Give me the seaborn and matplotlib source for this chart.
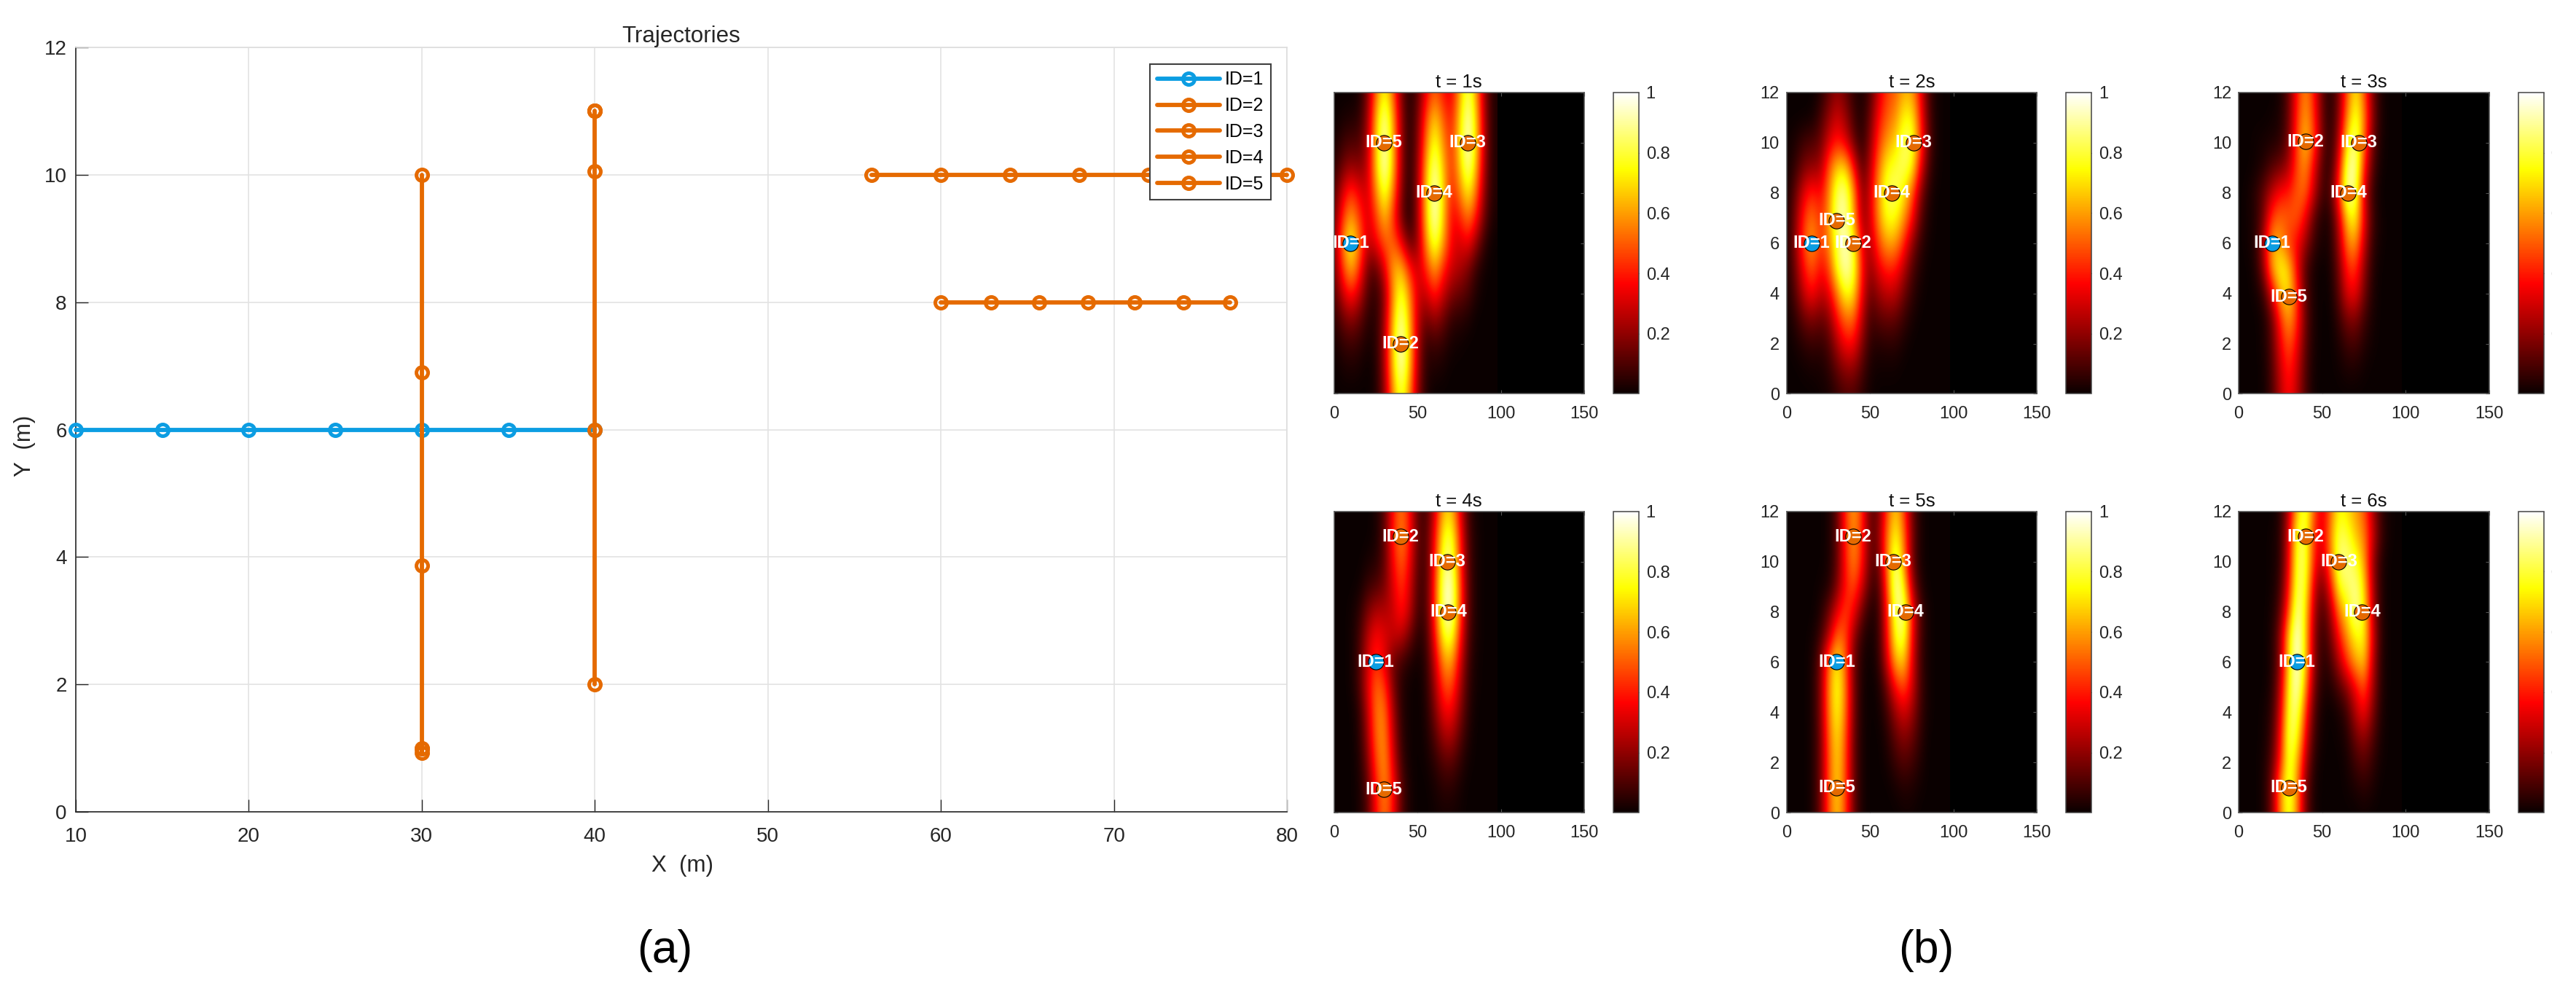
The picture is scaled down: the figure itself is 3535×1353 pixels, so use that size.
import numpy as np
import matplotlib
matplotlib.use("Agg")
import matplotlib.pyplot as plt
from matplotlib.transforms import Bbox
import seaborn as sns

# trajectories, one point per time step
id1_x = [10, 15, 20, 25, 30, 35, 40]
id1_y = [6, 6, 6, 6, 6, 6, 6]
id2_x = [40, 40, 40, 40, 40, 40]
id2_y = [2, 6, 10.05, 11, 11, 11]
id3_x = [80, 76, 72, 68, 64, 60, 56]
id3_y = [10, 10, 10, 10, 10, 10, 10]
id4_x = [60, 62.9, 65.7, 68.5, 71.2, 74, 76.7]
id4_y = [8, 8, 8, 8, 8, 8, 8]
id5_x = [30, 30, 30, 30, 30, 30]
id5_y = [10, 6.9, 3.87, 0.93, 1, 1]

traj_x = [id1_x, id2_x, id3_x, id4_x, id5_x]
traj_y = [id1_y, id2_y, id3_y, id4_y, id5_y]
id_names = ["ID=1", "ID=2", "ID=3", "ID=4", "ID=5"]
id_colors = ["#0C9DE2", "#E56A00", "#E56A00", "#E56A00", "#E56A00"]

x_ticks = [10, 20, 30, 40, 50, 60, 70, 80]
y_ticks = [0, 2, 4, 6, 8, 10, 12]
heat_x_ticks = [0, 50, 100, 150]
cbar_ticks = [0.2, 0.4, 0.6, 0.8, 1]
cbar_labels = ["0.2", "0.4", "0.6", "0.8", "1"]

# power maps in percent: rows y=12 down to y=0, columns x=0,5,...,95 (black past that)
heat_t1 = [
    [0, 0, 0, 2, 17, 52, 75, 52, 17, 3, 12, 35, 50, 38, 32, 61, 85, 59, 20, 3],
    [0, 2, 3, 5, 21, 63, 92, 63, 21, 3, 16, 47, 68, 50, 38, 68, 95, 66, 22, 3],
    [2, 7, 10, 10, 24, 66, 95, 66, 22, 3, 18, 55, 80, 58, 41, 71, 98, 68, 23, 3],
    [5, 15, 22, 18, 27, 67, 97, 67, 22, 3, 21, 63, 92, 66, 42, 66, 92, 63, 21, 3],
    [10, 31, 45, 34, 29, 57, 82, 57, 19, 3, 22, 67, 97, 70, 39, 55, 75, 52, 17, 3],
    [14, 43, 62, 45, 29, 45, 65, 45, 15, 2, 22, 67, 97, 69, 35, 40, 55, 38, 13, 2],
    [18, 55, 80, 55, 28, 35, 50, 52, 35, 12, 20, 59, 85, 62, 35, 30, 36, 20, 5, 0],
    [15, 45, 65, 45, 15, 12, 32, 62, 65, 40, 28, 43, 62, 43, 29, 25, 17, 6, 1, 0],
    [10, 29, 42, 29, 10, 5, 19, 57, 82, 57, 29, 29, 42, 29, 18, 14, 10, 3, 0, 0],
    [5, 14, 20, 14, 5, 4, 21, 63, 92, 63, 26, 15, 22, 15, 6, 5, 3, 0, 0, 0],
    [2, 6, 8, 6, 2, 4, 23, 68, 98, 68, 24, 6, 8, 6, 2, 1, 0, 0, 0, 0],
    [0, 2, 3, 2, 0, 3, 22, 66, 95, 66, 22, 4, 3, 2, 0, 0, 0, 0, 0, 0],
    [0, 0, 0, 0, 0, 3, 19, 57, 82, 57, 19, 3, 0, 0, 0, 0, 0, 0, 0, 0],
]
heat_t2 = [
    [0, 0, 0, 0, 3, 12, 20, 14, 5, 2, 10, 30, 45, 50, 62, 60, 35, 8, 1, 0],
    [0, 0, 0, 1, 8, 20, 30, 22, 8, 3, 15, 38, 50, 58, 75, 74, 40, 10, 1, 0],
    [1, 3, 8, 10, 14, 30, 40, 32, 14, 4, 20, 45, 60, 68, 84, 82, 45, 12, 1, 0],
    [1, 6, 16, 20, 22, 48, 68, 70, 38, 10, 26, 55, 75, 80, 85, 75, 35, 8, 1, 0],
    [2, 13, 32, 42, 35, 55, 85, 90, 60, 18, 30, 62, 82, 85, 72, 50, 18, 4, 0, 0],
    [3, 17, 42, 55, 42, 58, 88, 92, 62, 20, 30, 60, 78, 76, 60, 38, 12, 2, 0, 0],
    [3, 19, 47, 62, 45, 55, 83, 95, 78, 32, 25, 48, 62, 60, 42, 20, 6, 1, 0, 0],
    [3, 15, 38, 50, 37, 45, 78, 95, 82, 38, 20, 34, 42, 40, 26, 10, 3, 0, 0, 0],
    [2, 11, 28, 38, 28, 32, 55, 78, 72, 34, 14, 22, 28, 27, 15, 6, 1, 0, 0, 0],
    [1, 5, 14, 18, 14, 18, 38, 53, 52, 26, 8, 12, 14, 13, 7, 2, 0, 0, 0, 0],
    [0, 2, 5, 7, 6, 10, 24, 37, 37, 18, 5, 4, 5, 5, 2, 0, 0, 0, 0, 0],
    [0, 0, 1, 2, 2, 5, 13, 20, 20, 10, 2, 1, 1, 1, 0, 0, 0, 0, 0, 0],
    [0, 0, 0, 0, 1, 2, 6, 10, 10, 5, 1, 0, 0, 0, 0, 0, 0, 0, 0, 0],
]
heat_t3 = [
    [0, 0, 0, 0, 0, 2, 13, 40, 58, 40, 13, 3, 17, 50, 72, 50, 17, 2, 0, 0],
    [0, 0, 0, 0, 1, 3, 14, 43, 62, 43, 14, 3, 19, 57, 82, 57, 19, 3, 0, 0],
    [0, 0, 1, 2, 3, 5, 16, 47, 68, 47, 16, 4, 25, 74, 90, 52, 15, 2, 0, 0],
    [0, 0, 1, 4, 11, 15, 24, 47, 58, 34, 10, 5, 35, 88, 92, 42, 11, 1, 0, 0],
    [0, 1, 5, 14, 27, 38, 40, 50, 52, 28, 8, 10, 45, 95, 85, 30, 6, 0, 0, 0],
    [0, 1, 4, 16, 46, 52, 50, 50, 35, 12, 3, 4, 28, 70, 76, 35, 8, 1, 0, 0],
    [0, 1, 4, 25, 62, 60, 44, 36, 22, 7, 2, 3, 22, 56, 60, 28, 6, 1, 0, 0],
    [0, 0, 3, 20, 62, 78, 68, 35, 10, 2, 0, 2, 16, 42, 44, 20, 4, 0, 0, 0],
    [0, 0, 1, 7, 32, 65, 73, 42, 12, 2, 0, 1, 13, 33, 35, 16, 3, 0, 0, 0],
    [0, 0, 0, 2, 14, 43, 62, 43, 14, 2, 0, 0, 7, 17, 18, 8, 2, 0, 0, 0],
    [0, 0, 0, 2, 12, 35, 50, 35, 12, 2, 0, 0, 3, 8, 9, 4, 1, 0, 0, 0],
    [0, 0, 0, 1, 10, 29, 42, 29, 10, 1, 0, 0, 1, 3, 3, 1, 0, 0, 0, 0],
    [0, 0, 0, 1, 9, 26, 38, 26, 9, 1, 0, 0, 0, 0, 0, 0, 0, 0, 0, 0],
]
heat_t4 = [
    [0, 0, 0, 0, 0, 2, 11, 38, 55, 38, 11, 8, 29, 63, 67, 35, 8, 1, 0, 0],
    [0, 0, 0, 0, 0, 2, 12, 40, 58, 40, 12, 9, 36, 76, 82, 42, 10, 2, 0, 0],
    [0, 0, 0, 0, 2, 4, 12, 36, 52, 36, 11, 9, 39, 83, 88, 46, 11, 2, 0, 0],
    [0, 0, 0, 1, 7, 10, 16, 31, 45, 31, 9, 9, 42, 90, 96, 50, 12, 2, 0, 0],
    [0, 0, 1, 5, 17, 25, 25, 28, 40, 28, 8, 9, 42, 90, 96, 50, 12, 2, 0, 0],
    [0, 0, 1, 8, 26, 38, 32, 28, 27, 15, 4, 7, 36, 76, 82, 42, 10, 2, 0, 0],
    [0, 0, 1, 9, 30, 43, 33, 14, 8, 3, 1, 5, 27, 58, 62, 32, 8, 1, 0, 0],
    [0, 0, 1, 9, 32, 53, 46, 18, 4, 1, 0, 4, 21, 45, 48, 25, 6, 1, 0, 0],
    [0, 0, 0, 5, 26, 55, 55, 24, 5, 1, 0, 3, 16, 34, 36, 19, 5, 0, 0, 0],
    [0, 0, 0, 4, 22, 53, 58, 28, 6, 1, 0, 2, 10, 22, 24, 12, 3, 0, 0, 0],
    [0, 0, 0, 3, 17, 47, 60, 33, 8, 1, 0, 1, 5, 11, 12, 6, 1, 0, 0, 0],
    [0, 0, 0, 2, 12, 40, 58, 40, 12, 2, 0, 0, 2, 5, 5, 2, 0, 0, 0, 0],
    [0, 0, 0, 2, 11, 38, 55, 38, 11, 2, 0, 0, 1, 2, 2, 1, 0, 0, 0, 0],
]
heat_t5 = [
    [0, 0, 0, 0, 0, 2, 12, 43, 62, 43, 12, 16, 47, 68, 47, 14, 2, 0, 0, 0],
    [0, 0, 0, 0, 0, 2, 12, 41, 60, 41, 12, 18, 54, 78, 54, 16, 2, 0, 0, 0],
    [0, 0, 0, 0, 0, 2, 12, 40, 58, 40, 12, 14, 55, 90, 58, 14, 2, 0, 0, 0],
    [0, 0, 0, 0, 1, 3, 16, 38, 49, 30, 9, 8, 48, 95, 75, 22, 4, 0, 0, 0],
    [0, 0, 0, 0, 3, 14, 32, 47, 36, 14, 3, 6, 40, 85, 90, 38, 9, 1, 0, 0],
    [0, 0, 0, 1, 7, 24, 53, 48, 20, 5, 1, 6, 37, 79, 84, 35, 8, 1, 0, 0],
    [0, 0, 0, 2, 15, 52, 75, 52, 15, 3, 0, 5, 30, 64, 68, 32, 7, 1, 0, 0],
    [0, 0, 0, 2, 16, 55, 80, 55, 16, 2, 0, 2, 15, 38, 48, 30, 8, 1, 0, 0],
    [0, 0, 0, 2, 16, 54, 78, 54, 16, 2, 0, 1, 8, 22, 31, 22, 7, 1, 0, 0],
    [0, 0, 0, 2, 14, 50, 72, 50, 14, 2, 0, 0, 4, 13, 19, 14, 5, 0, 0, 0],
    [0, 0, 0, 2, 14, 48, 70, 48, 14, 2, 0, 0, 2, 7, 11, 8, 3, 0, 0, 0],
    [0, 0, 0, 2, 14, 48, 70, 48, 14, 2, 0, 0, 0, 2, 4, 3, 1, 0, 0, 0],
    [0, 0, 0, 2, 14, 47, 68, 47, 14, 2, 0, 0, 0, 0, 1, 1, 0, 0, 0, 0],
]
heat_t6 = [
    [0, 0, 0, 0, 0, 4, 25, 65, 84, 50, 30, 52, 75, 70, 60, 50, 25, 6, 1, 0],
    [0, 0, 0, 0, 1, 5, 32, 80, 82, 42, 30, 58, 84, 80, 66, 56, 30, 8, 1, 0],
    [0, 0, 0, 0, 1, 5, 33, 82, 84, 41, 26, 53, 88, 88, 80, 62, 22, 4, 0, 0],
    [0, 0, 0, 0, 1, 8, 38, 85, 80, 30, 14, 38, 78, 84, 90, 70, 25, 4, 0, 0],
    [0, 0, 0, 0, 2, 12, 48, 93, 72, 24, 8, 22, 55, 72, 92, 75, 27, 4, 0, 0],
    [0, 0, 0, 0, 3, 20, 69, 100, 69, 20, 5, 15, 38, 60, 75, 76, 32, 5, 0, 0],
    [0, 0, 0, 0, 3, 20, 69, 100, 69, 20, 4, 8, 25, 45, 62, 68, 28, 4, 0, 0],
    [0, 0, 0, 0, 4, 25, 75, 98, 60, 15, 3, 3, 10, 20, 36, 49, 24, 4, 0, 0],
    [0, 0, 0, 1, 6, 30, 80, 88, 45, 10, 1, 0, 2, 8, 26, 37, 18, 3, 0, 0],
    [0, 0, 0, 1, 8, 36, 85, 78, 35, 7, 1, 0, 1, 4, 15, 21, 11, 2, 0, 0],
    [0, 0, 0, 2, 12, 40, 83, 64, 25, 4, 0, 0, 0, 2, 8, 12, 6, 1, 0, 0],
    [0, 0, 0, 2, 17, 58, 85, 58, 17, 2, 0, 0, 0, 1, 3, 5, 3, 0, 0, 0],
    [0, 0, 0, 2, 16, 56, 82, 56, 16, 2, 0, 0, 0, 0, 0, 1, 0, 0, 0, 0],
]
heat_maps = [heat_t1, heat_t2, heat_t3, heat_t4, heat_t5, heat_t6]

W, H = 3535, 1353
sns.set_theme(style="ticks")
plt.rcParams["font.family"] = ["Liberation Sans", "DejaVu Sans"]
TXT = "#262626"

fig = plt.figure(figsize=(W / 100, H / 100), dpi=100, facecolor="white")


def add_axes_px(left, top, right, bottom):
    return fig.add_axes([left / W, 1 - bottom / H, (right - left) / W, (bottom - top) / H])


# (a) trajectories
ax = add_axes_px(104, 65, 1766, 1114)
for xs, ys, name, col in zip(traj_x, traj_y, id_names, id_colors):
    sns.lineplot(
        x=xs, y=ys, sort=False, estimator=None, errorbar=None, color=col, label=name,
        marker="o", markersize=11.5, markerfacecolor="none", markeredgecolor=col,
        markeredgewidth=3.6, linewidth=4.2, clip_on=False, zorder=3, ax=ax,
    )
ax.set_xlim(10, 80)
ax.set_ylim(0, 12)
ax.set_xticks(x_ticks)
ax.set_yticks(y_ticks)
ax.grid(True, color="#e3e3e3", linewidth=1.2)
ax.set_axisbelow(True)
ax.tick_params(axis="x", direction="in", length=12, width=1, color=TXT, labelsize=20, labelcolor=TXT, pad=15)
ax.tick_params(axis="y", direction="in", length=12, width=1, color=TXT, labelsize=20, labelcolor=TXT, pad=9)
for side in ["left", "bottom"]:
    ax.spines[side].set_color(TXT)
    ax.spines[side].set_linewidth(1.2)
for side in ["top", "right"]:
    ax.spines[side].set_visible(True)
    ax.spines[side].set_color("#dddddd")
    ax.spines[side].set_linewidth(1.2)
ax.set_title("Trajectories", fontsize=22.5, color=TXT, pad=4)
fig.text(936 / W, 1 - 1188 / H, "X  (m)", fontsize=22.5, color=TXT, ha="center", va="center")
fig.text(34 / W, 1 - 612 / H, "Y  (m)", fontsize=22.5, color=TXT, ha="center", va="center", rotation=90)
ax.legend(
    loc="upper left", bbox_to_anchor=(1578 / W, 1 - 88 / H), bbox_transform=fig.transFigure,
    borderaxespad=0, fontsize=18, handlelength=3.44, handletextpad=0.3, labelspacing=0.47,
    borderpad=0.38, fancybox=False, framealpha=1, edgecolor="#404040", labelcolor="black",
).get_frame().set_linewidth(1.5)

# (b) power maps with the target positions on top
col_lefts = [1830.5, 2451.6, 3072]
row_tops = [127, 701.7]
for n, heat in enumerate(heat_maps):
    left = col_lefts[n % 3]
    top = row_tops[n // 3]
    hax = add_axes_px(left, top, left + 343.5, top + 413.5)
    cax = add_axes_px(left + 383.5, top, left + 418.5, top + 413.5)
    mat = np.array(heat) / 100

    sns.heatmap(mat, ax=hax, cbar_ax=cax, cmap="hot", vmin=0, vmax=1, xticklabels=False, yticklabels=False)
    # keep seaborn's axes and colorbar, but paint the coarse grid smoothly
    mesh = hax.collections[0]
    cb = mesh.colorbar
    mesh.set_visible(False)
    hax.set_facecolor("black")
    hax.imshow(mat, cmap="hot", vmin=0, vmax=1, aspect="auto", interpolation="bicubic",
               extent=(-2.5, 97.5, -0.5, 12.5), origin="upper", zorder=1)
    hax.set_xlim(0, 150)
    hax.set_ylim(0, 12)

    for k in range(5):
        sns.scatterplot(x=[traj_x[k][n]], y=[traj_y[k][n]], s=235, color=id_colors[k],
                        edgecolor="black", linewidth=0.8, zorder=3, legend=False, ax=hax)
        hax.text(traj_x[k][n], traj_y[k][n], id_names[k], color="white", fontweight="bold", fontsize=17,
                 ha="center", va="center", zorder=4, clip_on=True)

    hax.set_xticks(heat_x_ticks)
    hax.set_xticklabels([str(v) for v in heat_x_ticks])
    hax.set_yticks(y_ticks)
    hax.set_yticklabels([str(v) for v in y_ticks] if n % 3 else [])
    hax.tick_params(axis="both", which="major", direction="in", length=3.5, width=0.8, color="#555555",
                    top=True, right=True, labelsize=17, labelcolor=TXT)
    hax.tick_params(axis="x", pad=12)
    hax.tick_params(axis="y", pad=7)
    hax.set_title(f"t = {n + 1}s", fontsize=18.5, color="#111111", pad=5)
    for sp in hax.spines.values():
        sp.set_visible(True)
        sp.set_color("#555555")
        sp.set_linewidth(1.1)

    cb.set_ticks(cbar_ticks)
    cb.set_ticklabels(cbar_labels)
    cax.tick_params(axis="y", direction="in", length=3, width=0.8, color=TXT, labelsize=17, labelcolor=TXT, pad=7)
    cb.outline.set_visible(True)
    cb.outline.set_edgecolor("#444444")
    cb.outline.set_linewidth(1.1)
    if n % 3 == 2:
        # the source image is cut off just right of the last colorbars
        for lab in cax.get_yticklabels():
            lab.set_clip_box(Bbox([[0, 0], [3502, H]]))
            lab.set_clip_on(True)

fig.text(912 / W, 1 - 1304 / H, "(a)", fontsize=45, color="black", ha="center", va="center")
fig.text(2643 / W, 1 - 1304 / H, "(b)", fontsize=45, color="black", ha="center", va="center")

fig.savefig("out.png", dpi=100, facecolor="white")
